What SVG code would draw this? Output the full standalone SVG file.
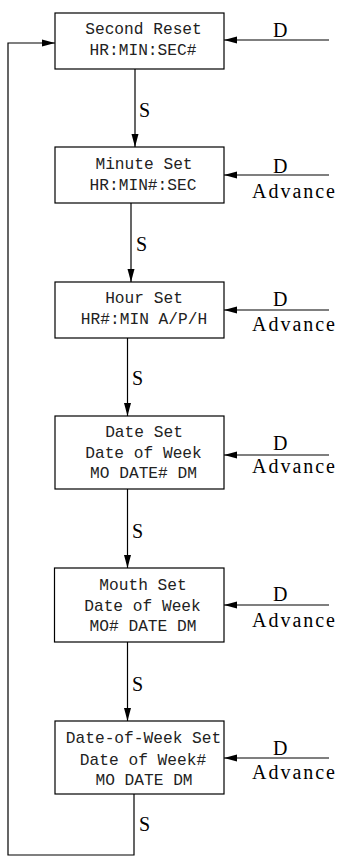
<svg xmlns="http://www.w3.org/2000/svg" width="337" height="856" viewBox="0 0 337 856">
<defs>
<marker id="ah" markerWidth="13" markerHeight="8" refX="13" refY="4" orient="auto" markerUnits="userSpaceOnUse">
<path d="M0,0.5 L13,4 L0,7.5 Z" fill="#000"/>
</marker>
<style>
.box{fill:#fff;stroke:#000;stroke-width:1.2}
.t{font-family:"Liberation Mono","DejaVu Sans Mono",monospace;font-size:16.2px;fill:#222;text-anchor:middle}
.l{font-family:"Liberation Serif","DejaVu Serif",serif;font-size:20px;fill:#000}
.c{fill:none;stroke:#000;stroke-width:1.2}
</style>
</defs>
<rect width="337" height="856" fill="#fff"/>
<g id="connectors">
<path class="c" d="M135,69 V147" marker-end="url(#ah)"/>
<path class="c" d="M131,203 V282" marker-end="url(#ah)"/>
<path class="c" d="M127.5,338 V416" marker-end="url(#ah)"/>
<path class="c" d="M127.5,489 V568" marker-end="url(#ah)"/>
<path class="c" d="M127.5,642 V721" marker-end="url(#ah)"/>
<path class="c" d="M134,794 V855 H8 V43 H55" marker-end="url(#ah)"/>
<path class="c" d="M329,40 H224" marker-end="url(#ah)"/>
<path class="c" d="M329,175 H224" marker-end="url(#ah)"/>
<path class="c" d="M329,310 H224" marker-end="url(#ah)"/>
<path class="c" d="M329,455 H224" marker-end="url(#ah)"/>
<path class="c" d="M329,605 H224" marker-end="url(#ah)"/>
<path class="c" d="M329,758 H224" marker-end="url(#ah)"/>
<text class="l" x="139" y="117">S</text>
<text class="l" x="136" y="251">S</text>
<text class="l" x="132" y="385">S</text>
<text class="l" x="132" y="538">S</text>
<text class="l" x="132" y="691">S</text>
<text class="l" x="139" y="831">S</text>
<text class="l" x="273" y="37">D</text>
<text class="l" x="273" y="173">D</text>
<text class="l" x="273" y="306">D</text>
<text class="l" x="273" y="450">D</text>
<text class="l" x="273" y="601">D</text>
<text class="l" x="273" y="755">D</text>
<text class="l" x="252" y="198" textLength="83" lengthAdjust="spacing">Advance</text>
<text class="l" x="252" y="331" textLength="83" lengthAdjust="spacing">Advance</text>
<text class="l" x="252" y="473" textLength="83" lengthAdjust="spacing">Advance</text>
<text class="l" x="252" y="627" textLength="83" lengthAdjust="spacing">Advance</text>
<text class="l" x="252" y="779" textLength="83" lengthAdjust="spacing">Advance</text>
</g>
<g id="second-reset">
<rect class="box" x="55" y="13" width="169" height="56"/>
<text class="t" x="143.5" y="34">Second Reset</text>
<text class="t" x="143" y="55">HR:MIN:SEC#</text>
</g>
<g id="minute-set">
<rect class="box" x="55" y="147" width="169" height="56"/>
<text class="t" x="144" y="169">Minute Set</text>
<text class="t" x="143" y="190">HR:MIN#:SEC</text>
</g>
<g id="hour-set">
<rect class="box" x="55" y="282" width="169" height="56"/>
<text class="t" x="144" y="303">Hour Set</text>
<text class="t" x="144" y="324">HR#:MIN A/P/H</text>
</g>
<g id="date-set">
<rect class="box" x="55" y="416" width="169" height="73"/>
<text class="t" x="144" y="437">Date Set</text>
<text class="t" x="143.5" y="458">Date of Week</text>
<text class="t" x="143.5" y="478">MO DATE# DM</text>
</g>
<g id="mouth-set">
<rect class="box" x="54.5" y="568" width="169.5" height="74"/>
<text class="t" x="143" y="590">Mouth Set</text>
<text class="t" x="142.5" y="611">Date of Week</text>
<text class="t" x="143" y="631">MO# DATE DM</text>
</g>
<g id="date-of-week-set">
<rect class="box" x="55" y="721" width="169" height="73"/>
<text class="t" x="143.5" y="743">Date-of-Week Set</text>
<text class="t" x="143" y="765">Date of Week#</text>
<text class="t" x="144" y="785">MO DATE DM</text>
</g>
</svg>
